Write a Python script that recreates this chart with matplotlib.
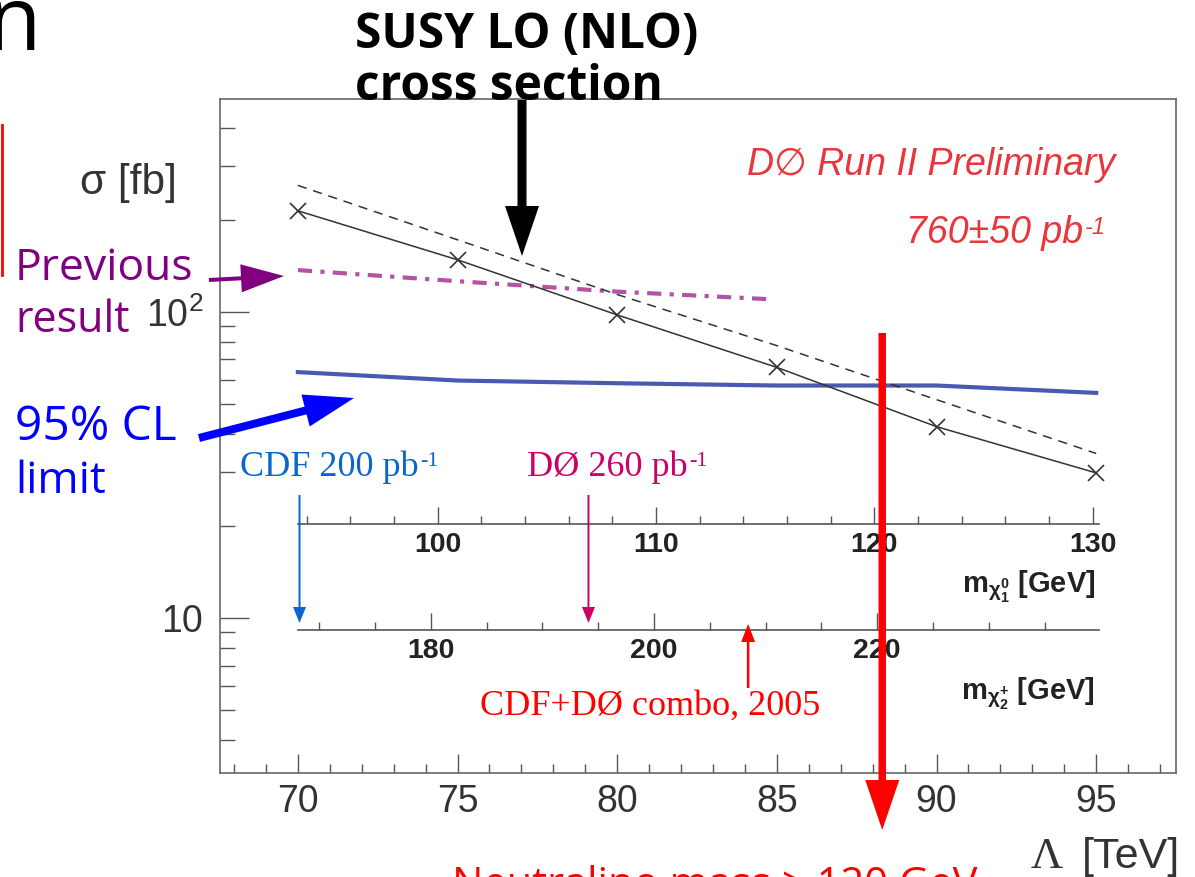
import matplotlib
matplotlib.use("Agg")
import matplotlib.pyplot as plt
from matplotlib.patches import FancyArrow
from matplotlib.transforms import IdentityTransform
from matplotlib.text import Annotation
from matplotlib.lines import Line2D
from matplotlib.ticker import FixedLocator, MultipleLocator, LogLocator, NullFormatter

plt.rcParams["font.family"] = ["Liberation Sans", "DejaVu Sans"]
plt.rcParams["mathtext.fontset"] = "custom"
plt.rcParams["mathtext.rm"] = "Liberation Sans"
plt.rcParams["mathtext.it"] = "Liberation Sans:italic"
plt.rcParams["mathtext.bf"] = "Liberation Sans:bold"
plt.rcParams["mathtext.default"] = "regular"

# ---- data ----
lam = [70, 75, 80, 85, 90, 95]                      # Lambda [TeV]
sigma_lo = [214, 148, 97.8, 65.9, 42.2, 29.8]       # fb
sigma_nlo = [259, 172, 114, 77.6, 51.7, 34.5]
lam_prev = [70, 75, 80, 84.8]
sigma_prev = [137, 126, 116.5, 110]
lam_lim = [70, 75, 80, 85, 90, 95]
sigma_lim = [63.6, 59.7, 58.5, 57.5, 57.5, 54.4]

# mass scales drawn inside the frame (Lambda ends -> mass ends)
lam_scale = [70, 95.1]
neut_mass = [93.6, 130.3]
neut_ticks = [100, 110, 120, 130]
charg_mass = [168.1, 239.9]
charg_ticks = [180, 200, 220]
neut_scale_y = 20.3    # fb level where the scale sits
charg_scale_y = 9.16

# limits marked with arrows (Lambda position)
lam_cdf = 70.05
lam_d0 = 79.1
lam_combo = 84.1
lam_new = 88.3

W, H = 1195, 877
fig = plt.figure(figsize=(W / 100, H / 100), dpi=100)


def txt(x, y, s, **kw):
    kw.setdefault("va", "baseline")
    return fig.text(x / W, 1 - y / H, s, **kw)


def sup(t, s, size, color, **kw):
    a = Annotation(s, xy=(1.0, 1.0), xycoords=t, xytext=(1, -1), textcoords="offset points",
                   ha="left", va="top", fontsize=size, color=color, **kw)
    fig.add_artist(a)


def arrow(x0, y0, x1, y1, w, hw, hl, color):
    a = FancyArrow(x0, H - y0, x1 - x0, -(y1 - y0), width=w, head_width=hw, head_length=hl,
                   length_includes_head=True, color=color, lw=0, transform=IdentityTransform())
    fig.add_artist(a)


ax = fig.add_axes([220 / W, (H - 773) / H, (1176 - 220) / W, (773 - 99) / H])
ax.set_yscale("log")
ax.set_xlim(67.56, 97.5)
ax.set_ylim(3.12, 496)

ax.plot(lam_lim, sigma_lim, color="#4a5ab0", lw=3)
ax.plot(lam_prev, sigma_prev, color="#b452a6", lw=3, linestyle=(0, (3.4, 2, 1, 2)))
ax.plot(lam, sigma_nlo, color="#333333", lw=1.1, linestyle=(0, (6, 4.5)))
ax.plot(lam, sigma_lo, color="#333333", lw=1.1, marker="x", ms=11, mew=1.2)

for s in ax.spines.values():
    s.set_color("#666666")
    s.set_linewidth(1.2)

ax.xaxis.set_major_locator(MultipleLocator(5))
ax.xaxis.set_minor_locator(MultipleLocator(1))
ax.tick_params(axis="x", which="major", direction="in", length=14, width=1, color="#555555",
               labelsize=27, labelcolor="#333333", pad=8, top=False)
ax.tick_params(axis="x", which="minor", direction="in", length=6.5, width=1, color="#555555", top=False)

ax.yaxis.set_major_locator(FixedLocator([10, 100]))
ax.set_yticklabels(["10", "$10^2$"])
ax.yaxis.set_minor_locator(LogLocator(base=10, subs=[2, 3, 4, 5, 6, 7, 8, 9]))
ax.yaxis.set_minor_formatter(NullFormatter())
ax.tick_params(axis="y", which="major", direction="in", length=21, width=1, color="#555555",
               labelsize=27, labelcolor="#333333", pad=12, right=False)
ax.tick_params(axis="y", which="minor", direction="in", length=10.5, width=1, color="#555555", right=False)


def mass_scale(y_fb, masses, ticks, minor, label, label_y):
    x0, yd = ax.transData.transform((lam_scale[0], y_fb))
    x1, _ = ax.transData.transform((lam_scale[1], y_fb))
    sa = fig.add_axes([x0 / W, yd / H, (x1 - x0) / W, 1e-4])
    sa.patch.set_visible(False)
    for k in ["top", "left", "right"]:
        sa.spines[k].set_visible(False)
    sa.spines["bottom"].set_color("#555555")
    sa.spines["bottom"].set_linewidth(1.2)
    sa.set_xlim(masses)
    sa.set_yticks([])
    sa.set_xticks(ticks, [str(t) for t in ticks], fontweight="bold")
    sa.xaxis.set_minor_locator(MultipleLocator(minor))
    sa.tick_params(axis="x", which="major", direction="in", length=12, width=1, color="#555555",
                   labelsize=20.5, labelcolor="#222222", pad=6)
    sa.tick_params(axis="x", which="minor", direction="in", length=6, width=1, color="#555555")
    txt(1095, label_y, label, ha="right", fontsize=21, fontweight="bold", color="#222222")


mass_scale(neut_scale_y, neut_mass, neut_ticks, 2, r"$\mathbf{m}_{\chi^{0}_{1}}$ [GeV]", 593)
mass_scale(charg_scale_y, charg_mass, charg_ticks, 5, r"$\mathbf{m}_{\chi^{+}_{2}}$ [GeV]", 700)

# axis titles
txt(80, 194, "\u03c3 [fb]", fontsize=30.5, color="#333333")
txt(1063, 868, "\u039b", ha="right", fontsize=32, color="#333333", family="Liberation Serif")
txt(1180, 868, "[TeV]", ha="right", fontsize=31, color="#333333")

# plot labels
txt(1115, 175, "D\u2205 Run II Preliminary", ha="right", fontsize=27, style="italic", color="#e8363c")
t = txt(1083, 243, "760\u00b150 pb", ha="right", fontsize=27, style="italic", color="#e8363c")
sup(t, "-1", 17, "#e8363c", style="italic")

# slide annotations
slide = ["Open Sans", "DejaVu Sans"]
txt(41, 50, "n", ha="right", fontsize=64, color="black", family=slide)
fig.add_artist(Line2D([1.5 / W, 1.5 / W], [1 - 125 / H, 1 - 275 / H], color="#ff0000", lw=2))

txt(355, 48, "SUSY LO (NLO)", fontsize=34.5, fontweight="bold", color="black", family=slide)
txt(355, 100, "cross section", fontsize=34.5, fontweight="bold", color="black", family=slide)
arrow(522, 100, 522, 256, 9, 34, 50, "black")

txt(15, 280, "Previous", fontsize=32, color="#800080", family=slide)
txt(15, 332, "result", fontsize=31, color="#800080", family=slide)
arrow(209, 280, 284, 276, 4, 28, 43, "#800080")

txt(15, 440, "95% CL", fontsize=34.5, color="#0000ff", family=slide)
txt(15, 493, "limit", fontsize=32, color="#0000ff", family=slide)
arrow(199, 438, 354, 398, 8, 33, 50, "#0000ff")

serif = ["Liberation Serif", "DejaVu Serif"]
t = txt(240, 476, "CDF 200 pb", fontsize=26, color="#0a66cc", family=serif)
sup(t, "-1", 16, "#0a66cc", family=serif)
t = txt(527, 476, "D\u00d8 260 pb", fontsize=26, color="#cc0066", family=serif)
sup(t, "-1", 16, "#cc0066", family=serif)
txt(480, 715, "CDF+D\u00d8 combo, 2005", fontsize=26, color="#ff0000", family=serif)


def lam_px(v):
    return ax.transData.transform((v, 10))[0]


arrow(lam_px(lam_cdf), 495, lam_px(lam_cdf), 623, 2, 13, 16, "#0a66cc")
arrow(lam_px(lam_d0), 495, lam_px(lam_d0), 623, 2, 13, 16, "#cc0066")
arrow(lam_px(lam_combo), 688, lam_px(lam_combo), 624, 2.5, 14, 18, "#ff0000")
arrow(lam_px(lam_new), 333, lam_px(lam_new), 830, 7.5, 34, 50, "#ff0000")

txt(452, 897, "Neutralino mass > 120 GeV", fontsize=30, color="#ff0000", family=slide)

fig.savefig("out.png", dpi=100)
